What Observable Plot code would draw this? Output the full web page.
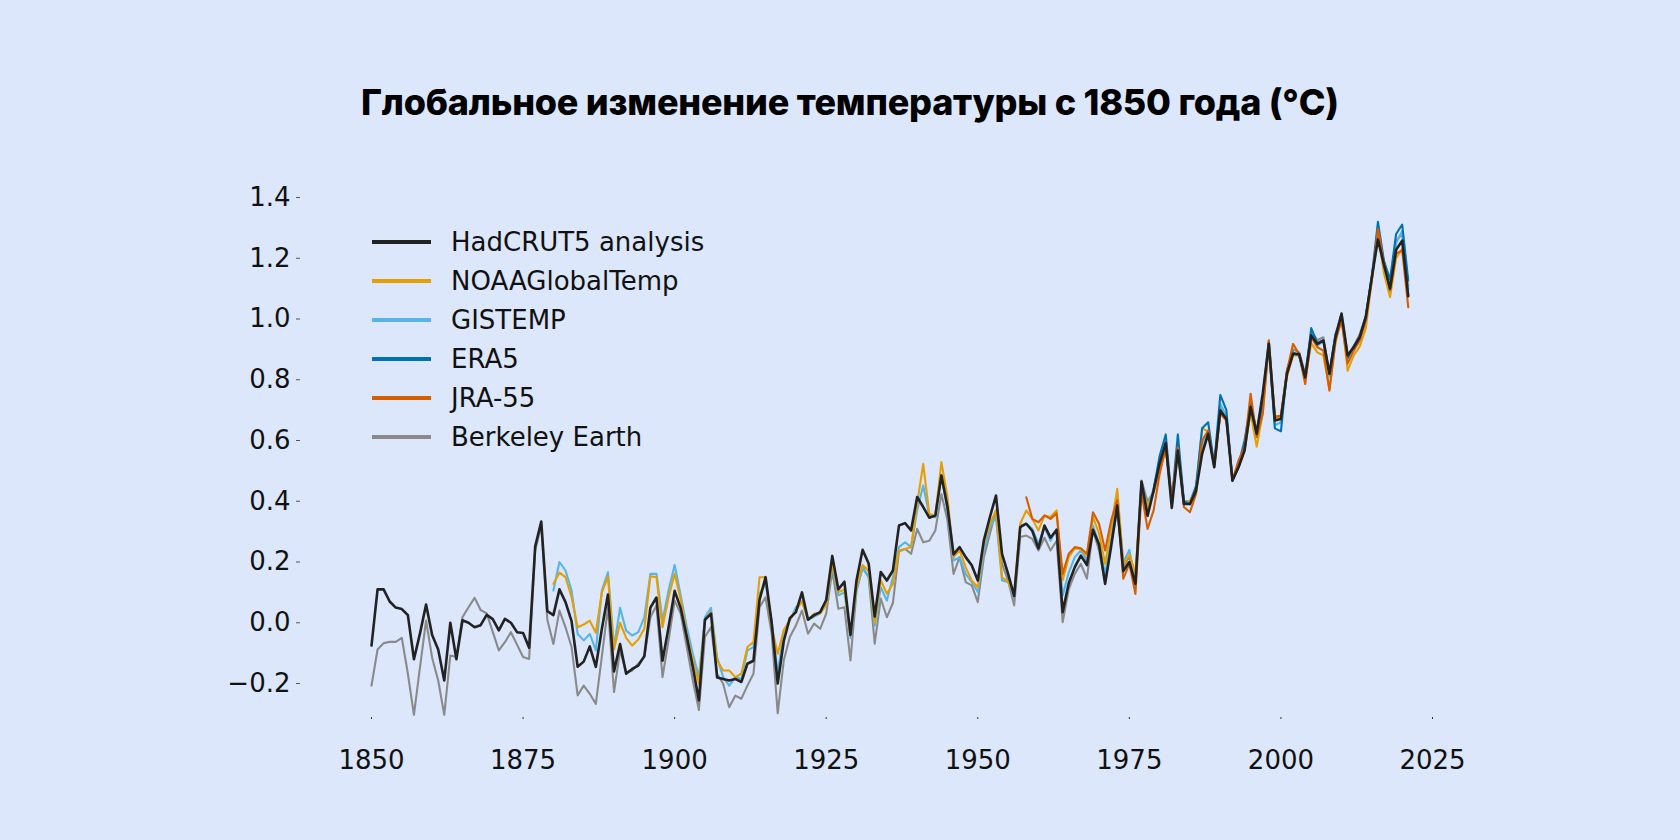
<!DOCTYPE html>
<html><head><meta charset="utf-8">
<script src="https://cdn.jsdelivr.net/npm/d3@7"></script>
<script src="https://cdn.jsdelivr.net/npm/@observablehq/plot@0.6"></script>
<style>
html,body{margin:0;padding:0;background:#dce7fc;}
#page{position:relative;width:1680px;height:840px;background:#dce7fc;overflow:hidden;}
#title{position:absolute;top:84px;left:361px;font-family:Inter,"Noto Sans",sans-serif;font-weight:800;font-size:36px;line-height:36px;color:#000;white-space:nowrap;}
#chart{position:absolute;left:0;top:140px;}
#legend{position:absolute;left:372px;top:222px;font-family:"DejaVu Sans",sans-serif;font-size:26px;color:#111;}
.row{display:flex;align-items:center;height:39px;}
.sw{width:59px;height:4px;margin-right:20px;}
</style></head>
<body>
<div id="page">
  <div id="title"></div>
  <div id="chart"></div>
  <div id="legend"></div>
</div>
<script>
const titleText = "Глобальное изменение температуры с 1850 года (°C)";

// Series names and colours
const seriesNames = ["HadCRUT5 analysis", "NOAAGlobalTemp", "GISTEMP", "ERA5", "JRA-55", "Berkeley Earth"];
const seriesColors = ["#222222", "#E69F00", "#56B4E9", "#0072B2", "#D55E00", "#8a8a8a"];

// Axis ticks
const xTicks = [1850, 1875, 1900, 1925, 1950, 1975, 2000, 2025];
const yTicks = [-0.2, 0, 0.2, 0.4, 0.6, 0.8, 1.0, 1.2, 1.4];

// HadCRUT5 analysis, 1850-2021
const hadcrutStart = 1850;
const hadcrut5 = [
  -0.075, 0.11, 0.11, 0.07, 0.05, 0.045, 0.025, -0.12, -0.035, 0.06,
  -0.04, -0.088, -0.19, 0.00, -0.12, 0.008, 0.00, -0.015, -0.008, 0.026,
  0.012, -0.025, 0.013, 0.00, -0.031, -0.034, -0.082, 0.252, 0.333, 0.038,
  0.025, 0.11, 0.068, 0.005, -0.145, -0.128, -0.078, -0.145, -0.02, 0.093,
  -0.16, -0.07, -0.168, -0.152, -0.141, -0.11, 0.05, 0.083, -0.125, -0.015,
  0.105, 0.048, -0.046, -0.146, -0.256, 0.01, 0.03, -0.18, -0.185, -0.19,
  -0.185, -0.195, -0.135, -0.125, 0.075, 0.15, 0.00, -0.20, -0.06, 0.015,
  0.035, 0.10, 0.01, 0.025, 0.035, 0.075, 0.22, 0.11, 0.135, -0.04,
  0.14, 0.24, 0.195, 0.02, 0.167, 0.139, 0.172, 0.32, 0.328, 0.304,
  0.414, 0.381, 0.346, 0.353, 0.485, 0.381, 0.225, 0.249, 0.216, 0.189,
  0.139, 0.271, 0.348, 0.419, 0.227, 0.161, 0.088, 0.315, 0.326, 0.302,
  0.245, 0.32, 0.28, 0.306, 0.035, 0.13, 0.183, 0.221, 0.19, 0.306,
  0.258, 0.128, 0.252, 0.386, 0.17, 0.2, 0.128, 0.465, 0.352, 0.435,
  0.525, 0.592, 0.378, 0.567, 0.391, 0.391, 0.435, 0.556, 0.622, 0.512,
  0.699, 0.671, 0.468, 0.512, 0.567, 0.71, 0.622, 0.754, 0.918, 0.666,
  0.671, 0.82, 0.885, 0.885, 0.808, 0.946, 0.918, 0.929, 0.82, 0.94,
  1.017, 0.88, 0.907, 0.94, 1.006, 1.138, 1.262, 1.178, 1.1, 1.228,
  1.258, 1.075
];

// Berkeley Earth, 1850-2021
const berkeleyStart = 1850;
const berkeley = [
  -0.207, -0.088, -0.067, -0.063, -0.063, -0.05, -0.168, -0.303, -0.146, 0.007,
  -0.115, -0.19, -0.303, -0.108, -0.113, 0.018, 0.051, 0.082, 0.042, 0.031,
  -0.03, -0.091, -0.064, -0.031, -0.072, -0.113, -0.119, 0.238, 0.32, 0.01,
  -0.07, 0.04, -0.015, -0.08, -0.239, -0.207, -0.234, -0.267, -0.11, 0.051,
  -0.228, -0.091, -0.163, -0.157, -0.135, -0.113, 0.018, 0.057, -0.179, -0.058,
  0.073, 0.03, -0.08, -0.19, -0.287, -0.047, -0.014, -0.168, -0.201, -0.278,
  -0.24, -0.25, -0.207, -0.168, 0.051, 0.084, -0.036, -0.298, -0.124, -0.047,
  -0.009, 0.04, -0.036, -0.003, -0.02, 0.03, 0.172, 0.046, 0.051, -0.124,
  0.106, 0.183, 0.15, -0.069, 0.08, 0.018, 0.065, 0.235, 0.243, 0.227,
  0.309, 0.265, 0.27, 0.304, 0.424, 0.337, 0.161, 0.216, 0.134, 0.123,
  0.068, 0.216, 0.293, 0.37, 0.194, 0.139, 0.057, 0.282, 0.287, 0.276,
  0.238, 0.28, 0.238, 0.27, 0.002, 0.11, 0.161, 0.194, 0.145, 0.304,
  0.238, 0.134, 0.26, 0.37, 0.18, 0.22, 0.128, 0.468, 0.40, 0.43,
  0.52, 0.58, 0.40, 0.58, 0.40, 0.40, 0.45, 0.58, 0.63, 0.52,
  0.71, 0.68, 0.47, 0.51, 0.57, 0.72, 0.63, 0.74, 0.93, 0.68,
  0.68, 0.83, 0.90, 0.89, 0.82, 0.96, 0.93, 0.94, 0.82, 0.95,
  1.02, 0.88, 0.91, 0.95, 1.01, 1.14, 1.28, 1.19, 1.12, 1.258,
  1.28, 1.11
];

// NOAAGlobalTemp, 1880-2021
const noaaStart = 1880;
const noaa = [
  0.128, 0.165, 0.15, 0.084, -0.015, -0.006, 0.007, -0.033, 0.1, 0.152,
  -0.088, 0.0, -0.05, -0.075, -0.055, -0.020, 0.153, 0.15, -0.015, 0.084,
  0.161, 0.076, -0.036, -0.124, -0.2, 0.008, 0.035, -0.124, -0.157, -0.157,
  -0.179, -0.168, -0.080, -0.064, 0.150, 0.150, -0.014, -0.102, -0.025, 0.008,
  0.04, 0.07, 0.01, 0.03, 0.03, 0.06, 0.20, 0.10, 0.11, -0.04,
  0.12, 0.19, 0.17, 0.00, 0.14, 0.095, 0.128, 0.238, 0.243, 0.249,
  0.392, 0.523, 0.358, 0.353, 0.529, 0.413, 0.216, 0.238, 0.183, 0.139,
  0.117, 0.26, 0.326, 0.37, 0.15, 0.134, 0.095, 0.326, 0.37, 0.342,
  0.304, 0.353, 0.348, 0.37, 0.14, 0.216, 0.245, 0.243, 0.22, 0.348,
  0.293, 0.194, 0.315, 0.441, 0.19, 0.225, 0.161, 0.45, 0.38, 0.43,
  0.50, 0.57, 0.40, 0.56, 0.39, 0.40, 0.44, 0.64, 0.63, 0.52,
  0.69, 0.67, 0.47, 0.52, 0.57, 0.69, 0.58, 0.69, 0.91, 0.67,
  0.68, 0.81, 0.88, 0.88, 0.80, 0.92, 0.89, 0.88, 0.77, 0.92,
  1.01, 0.83, 0.88, 0.91, 0.97, 1.13, 1.28, 1.15, 1.072, 1.2,
  1.231, 1.12
];

// GISTEMP, 1880-2021
const gistempStart = 1880;
const gistemp = [
  0.106, 0.20, 0.172, 0.106, -0.037, -0.058, -0.037, -0.091, 0.106, 0.166,
  -0.08, 0.049, -0.026, -0.042, -0.031, 0.018, 0.161, 0.161, 0.007, 0.106,
  0.19, 0.09, -0.014, -0.102, -0.179, 0.018, 0.049, -0.113, -0.179, -0.207,
  -0.179, -0.185, -0.091, -0.080, 0.095, 0.128, 0.008, -0.168, -0.025, 0.008,
  0.051, 0.07, 0.01, 0.02, 0.03, 0.06, 0.19, 0.09, 0.10, -0.05,
  0.11, 0.18, 0.15, -0.01, 0.117, 0.073, 0.15, 0.249, 0.265, 0.249,
  0.37, 0.452, 0.353, 0.347, 0.485, 0.37, 0.205, 0.216, 0.161, 0.134,
  0.101, 0.238, 0.315, 0.348, 0.139, 0.134, 0.084, 0.32, 0.326, 0.309,
  0.26, 0.315, 0.27, 0.309, 0.09, 0.165, 0.216, 0.238, 0.205, 0.32,
  0.26, 0.161, 0.276, 0.424, 0.2, 0.24, 0.139, 0.46, 0.38, 0.44,
  0.53, 0.59, 0.40, 0.58, 0.40, 0.39, 0.44, 0.58, 0.63, 0.52,
  0.72, 0.68, 0.47, 0.51, 0.57, 0.70, 0.62, 0.72, 0.91, 0.65,
  0.66, 0.82, 0.89, 0.88, 0.81, 0.95, 0.91, 0.93, 0.81, 0.94,
  1.01, 0.88, 0.90, 0.93, 1.00, 1.14, 1.29, 1.18, 1.11, 1.25,
  1.29, 1.10
];

// ERA5, 1979-2021
const era5Start = 1979;
const era5 = [
  0.44,
  0.55, 0.62, 0.40, 0.62, 0.40, 0.39, 0.45, 0.64, 0.66, 0.52,
  0.75, 0.70, 0.47, 0.52, 0.60, 0.72, 0.63, 0.72, 0.92, 0.64,
  0.63, 0.83, 0.89, 0.88, 0.80, 0.97, 0.92, 0.93, 0.82, 0.95,
  1.00, 0.87, 0.91, 0.94, 1.01, 1.14, 1.32, 1.19, 1.13, 1.28,
  1.311, 1.127
];

// JRA-55, 1958-2021
const jraStart = 1958;
const jra55 = [
  0.413, 0.342,
  0.331, 0.353, 0.342, 0.36, 0.161, 0.227, 0.249, 0.245, 0.227, 0.364,
  0.326, 0.238, 0.337, 0.403, 0.145, 0.194, 0.095, 0.43, 0.309, 0.37,
  0.49, 0.578, 0.402, 0.578, 0.381, 0.364, 0.424, 0.60, 0.633, 0.512,
  0.688, 0.666, 0.468, 0.534, 0.578, 0.754, 0.611, 0.688, 0.929, 0.677,
  0.682, 0.83, 0.918, 0.885, 0.786, 0.94, 0.907, 0.896, 0.764, 0.929,
  0.995, 0.853, 0.896, 0.929, 0.995, 1.127, 1.297, 1.182, 1.094, 1.215,
  1.226, 1.039
];

function toRows(start, vals) { return vals.map((v, i) => ({year: start + i, value: v})); }

const dataBy = {
  "HadCRUT5 analysis": toRows(hadcrutStart, hadcrut5),
  "NOAAGlobalTemp": toRows(noaaStart, noaa),
  "GISTEMP": toRows(gistempStart, gistemp),
  "ERA5": toRows(era5Start, era5),
  "JRA-55": toRows(jraStart, jra55),
  "Berkeley Earth": toRows(berkeleyStart, berkeley)
};
const colorOf = Object.fromEntries(seriesNames.map((n, i) => [n, seriesColors[i]]));
const drawOrder = ["Berkeley Earth", "GISTEMP", "NOAAGlobalTemp", "ERA5", "JRA-55", "HadCRUT5 analysis"];

const fmtY = d => d.toFixed(1).replace("-", "\u2212");

const chart = Plot.plot({
  width: 1680,
  height: 700,
  marginLeft: 300,
  marginRight: 0,
  marginTop: 0,
  marginBottom: 123,
  style: {background: "transparent", fontFamily: "DejaVu Sans, sans-serif", fontSize: "26px", color: "#111", overflow: "visible"},
  x: {domain: [1850, 2025], range: [371, 1432]},
  y: {domain: [-0.2, 1.4], range: [543, 57]},
  marks: [
    Plot.axisY({ticks: yTicks, tickFormat: fmtY, tickSize: 4, tickPadding: 6, label: null, fontSize: 26, stroke: "#555"}),
    Plot.axisX({ticks: xTicks, tickFormat: d => String(d), tickSize: 2, tickPadding: 31, label: null, fontSize: 26, stroke: "#333"}),
    ...drawOrder.map(name => Plot.line(dataBy[name], {
      x: "year", y: "value",
      stroke: colorOf[name],
      strokeWidth: name === "HadCRUT5 analysis" ? 2.6 : 2.1
    }))
  ]
});
document.getElementById("chart").appendChild(chart);

// Title
const t = document.getElementById("title");
t.textContent = titleText;
const targetW = 978;
const w0 = t.getBoundingClientRect().width;
t.style.letterSpacing = ((targetW - w0) / (titleText.length - 1)) + "px";

// Legend
const lg = document.getElementById("legend");
seriesNames.forEach((n, i) => {
  const r = document.createElement("div"); r.className = "row";
  const s = document.createElement("div"); s.className = "sw"; s.style.background = seriesColors[i];
  const l = document.createElement("span"); l.textContent = n;
  r.appendChild(s); r.appendChild(l); lg.appendChild(r);
});
</script>
</body></html>
